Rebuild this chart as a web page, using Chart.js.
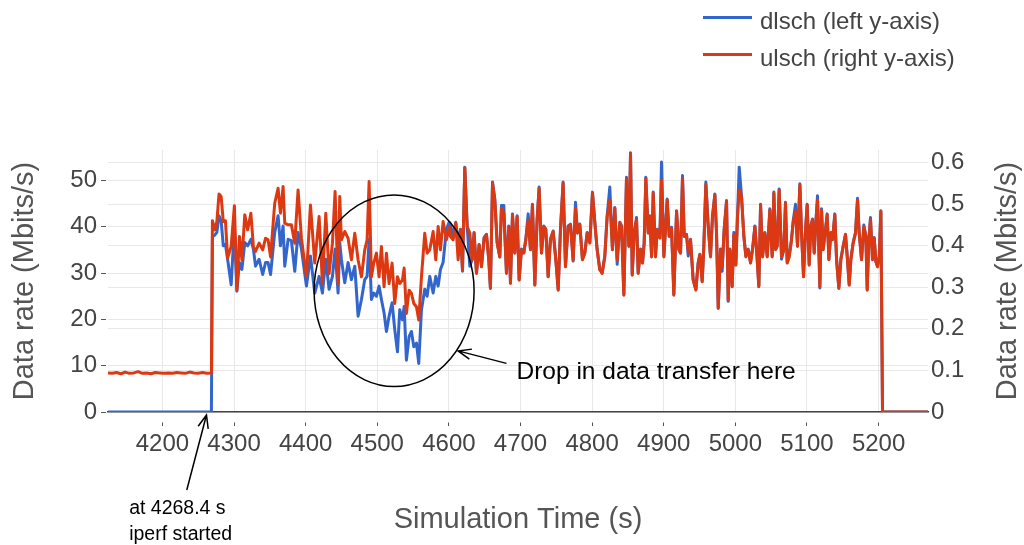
<!DOCTYPE html>
<html>
<head>
<meta charset="utf-8">
<script src="https://cdn.jsdelivr.net/npm/chart.js@4.4.1/dist/chart.umd.min.js"></script>
<style>
  html, body { margin: 0; padding: 0; background: #fff; }
</style>
</head>
<body>
<canvas id="rateChart" width="1024" height="545"></canvas>
<script>
// simulation time (s)
const time = [
  4124, 4130, 4136, 4142, 4148, 4154, 4160, 4166, 4172, 4178, 4184, 4190, 4196, 4202, 4208, 4214, 4220, 4226, 4232, 4238, 4244, 4250, 4256, 4262, 4268.4,
  4269.8, 4273, 4276, 4279, 4282, 4285, 4288, 4291, 4296, 4300.5, 4304, 4307.5, 4311, 4315, 4319, 4323.5, 4327, 4330, 4335, 4340, 4344, 4347.5, 4351,
  4356.8, 4361.5, 4364.8, 4368.5, 4370.8, 4375.5, 4380.1, 4384.8, 4389.4, 4394.1, 4401.1, 4406.7, 4412.7, 4418.8, 4423.4, 4428.1, 4432.7, 4437.4,
  4441.1, 4445.3, 4447.6, 4449.9, 4454.6, 4459.2, 4463.9, 4468.6, 4473.2, 4477.9, 4482.5, 4485.8, 4488.6, 4491.8, 4495.1, 4498.8, 4502.5, 4505.8,
  4509.5, 4512.8, 4516.5, 4520.7, 4524.4, 4528.2, 4531.4, 4535.1, 4537.5, 4540.7, 4544.4, 4547.7, 4551, 4554.7, 4557.9, 4561.7, 4566.3, 4569.6,
  4573.3, 4578, 4581.7, 4585, 4588.2, 4591.9, 4596.6, 4600.3, 4602.2, 4605.9, 4609.6, 4612.9, 4616.2, 4619, 4622.2, 4625.5, 4629.2, 4632.5,
  4635.2, 4638.5, 4642.2, 4645.5, 4649.2, 4652.5, 4655.7, 4658, 4660.9, 4664.1, 4667.4, 4671.1, 4673.4, 4676.7, 4680.4, 4683.7, 4686, 4688.8,
  4692, 4695.3, 4698.1, 4701.3, 4704.6, 4707.4, 4710.7, 4713.9, 4716.7, 4720, 4723.2, 4726, 4729.3, 4732.5, 4735.3, 4738.6, 4741.8, 4745.6,
  4749.3, 4752.6, 4755.8, 4759.5, 4762.8, 4766.5, 4769.8, 4773.5, 4776.8, 4779.6, 4782.8, 4786.5, 4789.8, 4793.1, 4796.8, 4800.5, 4803.8, 4807,
  4810.7, 4814, 4817.7, 4821, 4824.7, 4828.4, 4831.7, 4835, 4838.7, 4841.1, 4844.3, 4848, 4851.3, 4853.6, 4856, 4858.7, 4862, 4864.3,
  4867.6, 4870.4, 4872.7, 4875, 4878.3, 4880.6, 4883, 4885.3, 4888.5, 4890.9, 4894.6, 4896.9, 4900.2, 4904.8, 4907.6, 4910.9, 4914.1, 4917.9,
  4921.1, 4923.5, 4926.2, 4928.6, 4931.8, 4934.2, 4937.4, 4941.1, 4944.9, 4948.1, 4950.5, 4953.7, 4956, 4958.8, 4962.1, 4965.3, 4968.1, 4971.4,
  4973.7, 4976.1, 4979.3, 4981.6, 4984.4, 4987.7, 4990, 4992.3, 4995.6, 4997.9, 5000.7, 5003, 5005.4, 5008.6, 5011.9, 5014.7, 5018, 5021.2,
  5024, 5027.3, 5029.6, 5032.8, 5035.2, 5038, 5041.2, 5044.5, 5048.2, 5051.4, 5053.8, 5056.1, 5058.4, 5061.2, 5064.5, 5067.7, 5070, 5072.4,
  5075.2, 5078.4, 5080.8, 5084, 5086.8, 5090.1, 5092.4, 5095.2, 5098, 5100.3, 5103.1, 5105.4, 5107.8, 5110.1, 5112.4, 5114.7, 5118, 5120.3,
  5122.6, 5125.9, 5128.2, 5130.6, 5133.4, 5135.7, 5138.9, 5141.3, 5144.5, 5147.3, 5150.6, 5153.8, 5156.2, 5159, 5161.3, 5164.5, 5167.8, 5170.6,
  5172.9, 5176.2, 5179.4, 5182.2, 5184.1, 5186.4, 5188.7, 5191.5, 5193.9, 5196.2, 5198.5, 5200.9, 5203.2, 5205.5, 5269
];

// dlsch, Mbits/s (left axis)
const dlsch = [
  0, 0, 0, 0, 0, 0, 0, 0, 0, 0, 0, 0, 0, 0, 0, 0, 0, 0, 0, 0, 0, 0, 0, 0, 0,
  37.9, 38.2, 38.8, 42.4, 41.3, 35.9, 36.2, 33.0, 27.5, 40.2, 26.1, 32.3, 30.8, 36.6, 35.9, 37.3, 35.2, 31.5, 33.0, 29.7, 32.3, 32.3, 29.7,
  38.8, 42.4, 35.9, 40.2, 31.5, 37.3, 37.0, 30.4, 38.8, 35.2, 27.2, 33.7, 25.7, 29.3, 25.7, 33.0, 26.5, 29.3,
  35.2, 25.7, 36.6, 33.0, 27.9, 32.3, 28.6, 31.5, 20.7, 24.3, 28.6, 29.3, 37.3, 24.3, 25.7, 25.0, 27.2, 24.3,
  21.4, 17.4, 20.7, 23.6, 17.8, 13.0, 22.1, 19.9, 22.8, 11.2, 16.3, 17.4, 14.1, 14.9, 10.5, 22.1, 26.5, 25.0,
  29.3, 25.7, 29.3, 27.2, 30.8, 32.3, 39.5, 41.0, 40.6, 37.7, 41.0, 36.6, 39.5, 30.4, 52.9, 40.2, 31.5, 33.0,
  38.8, 30.1, 36.2, 31.5, 37.7, 38.4, 33.0, 26.8, 49.7, 46.0, 36.6, 33.5, 44.6, 44.6, 30.1, 40.2, 27.9, 42.8,
  34.4, 42.4, 28.6, 35.2, 34.4, 37.3, 42.8, 35.2, 44.9, 27.5, 41.7, 48.6, 34.4, 40.2, 39.5, 29.3, 37.3, 39.1,
  33.0, 26.5, 39.5, 49.7, 31.5, 40.2, 40.6, 32.6, 45.3, 38.8, 40.6, 33.0, 34.4, 38.8, 36.6, 47.5, 41.0, 35.2,
  30.8, 30.1, 33.7, 42.4, 48.6, 35.2, 44.2, 31.9, 41.0, 40.2, 25.4, 50.7, 35.9, 56.0, 29.7, 38.8, 42.0, 30.1,
  35.2, 32.3, 36.6, 50.7, 38.8, 42.4, 33.7, 47.5, 33.7, 39.5, 37.7, 54.0, 33.7, 46.0, 38.0, 39.9, 25.4, 43.5,
  35.2, 34.4, 51.1, 38.0, 38.4, 33.7, 37.3, 28.6, 26.5, 32.3, 34.1, 28.3, 35.9, 49.7, 40.2, 33.7, 42.4, 47.1,
  38.8, 22.5, 35.2, 30.4, 39.5, 45.7, 23.9, 35.2, 27.2, 38.8, 31.9, 42.4, 52.9, 46.7, 38.0, 33.7, 35.2, 32.3,
  35.2, 40.2, 35.2, 27.2, 44.9, 33.7, 38.8, 33.7, 43.9, 33.7, 47.5, 35.2, 35.9, 48.2, 33.0, 35.2, 45.3, 32.3,
  33.7, 37.3, 41.3, 44.9, 35.9, 49.3, 38.8, 29.3, 39.5, 44.9, 31.9, 40.2, 41.7, 34.4, 41.0, 46.7, 26.8, 43.9,
  35.2, 39.5, 42.8, 33.0, 38.8, 37.3, 42.8, 33.0, 26.8, 33.0, 35.9, 38.4, 33.7, 27.5, 33.0, 36.6, 38.8, 46.2,
  38.8, 33.0, 40.4, 38.0, 26.5, 37.3, 42.0, 33.0, 37.7, 32.6, 31.5, 33.7, 43.5, 0, 0
];

// ulsch, Mbits/s (right axis)
const ulsch = [
  0.094, 0.093, 0.095, 0.092, 0.096, 0.093, 0.094, 0.097, 0.093, 0.094, 0.092, 0.095, 0.094, 0.093, 0.094, 0.093, 0.095, 0.094, 0.093, 0.096, 0.094, 0.093, 0.095, 0.093, 0.094,
  0.460, 0.438, 0.458, 0.524, 0.518, 0.458, 0.460, 0.370, 0.398, 0.496, 0.293, 0.422, 0.366, 0.474, 0.438, 0.478, 0.398, 0.386, 0.406, 0.390, 0.418, 0.414, 0.373,
  0.502, 0.538, 0.478, 0.542, 0.454, 0.450, 0.450, 0.406, 0.534, 0.418, 0.325, 0.498, 0.358, 0.470, 0.309, 0.478, 0.333, 0.406,
  0.530, 0.309, 0.518, 0.414, 0.434, 0.418, 0.366, 0.430, 0.366, 0.325, 0.390, 0.414, 0.554, 0.325, 0.358, 0.382, 0.325, 0.398,
  0.301, 0.382, 0.309, 0.358, 0.261, 0.325, 0.309, 0.317, 0.346, 0.237, 0.293, 0.285, 0.261, 0.253, 0.221, 0.325, 0.430, 0.382,
  0.390, 0.434, 0.366, 0.446, 0.390, 0.458, 0.414, 0.446, 0.422, 0.414, 0.454, 0.366, 0.438, 0.342, 0.587, 0.446, 0.430, 0.366,
  0.430, 0.333, 0.402, 0.349, 0.418, 0.426, 0.366, 0.297, 0.550, 0.510, 0.406, 0.373, 0.490, 0.478, 0.333, 0.446, 0.309, 0.474,
  0.382, 0.470, 0.317, 0.390, 0.382, 0.414, 0.462, 0.390, 0.498, 0.305, 0.462, 0.538, 0.382, 0.446, 0.438, 0.325, 0.414, 0.434,
  0.366, 0.293, 0.438, 0.550, 0.349, 0.446, 0.450, 0.366, 0.490, 0.430, 0.450, 0.366, 0.382, 0.430, 0.406, 0.526, 0.454, 0.390,
  0.342, 0.333, 0.373, 0.470, 0.510, 0.390, 0.490, 0.366, 0.454, 0.446, 0.281, 0.562, 0.398, 0.621, 0.329, 0.430, 0.462, 0.333,
  0.390, 0.358, 0.406, 0.562, 0.430, 0.470, 0.373, 0.526, 0.373, 0.438, 0.418, 0.558, 0.373, 0.510, 0.422, 0.442, 0.281, 0.482,
  0.390, 0.382, 0.562, 0.422, 0.426, 0.386, 0.414, 0.317, 0.293, 0.358, 0.378, 0.313, 0.398, 0.546, 0.446, 0.373, 0.470, 0.522,
  0.430, 0.249, 0.390, 0.349, 0.438, 0.506, 0.269, 0.390, 0.301, 0.426, 0.353, 0.470, 0.534, 0.518, 0.422, 0.373, 0.390, 0.358,
  0.390, 0.446, 0.390, 0.301, 0.498, 0.373, 0.430, 0.373, 0.486, 0.373, 0.526, 0.390, 0.398, 0.534, 0.373, 0.390, 0.502, 0.358,
  0.373, 0.414, 0.458, 0.482, 0.398, 0.546, 0.430, 0.325, 0.438, 0.498, 0.353, 0.446, 0.462, 0.382, 0.454, 0.510, 0.301, 0.486,
  0.390, 0.438, 0.474, 0.366, 0.430, 0.414, 0.474, 0.366, 0.297, 0.366, 0.398, 0.426, 0.373, 0.305, 0.366, 0.406, 0.430, 0.510,
  0.430, 0.366, 0.446, 0.422, 0.293, 0.414, 0.462, 0.366, 0.418, 0.361, 0.349, 0.373, 0.482, 0, 0
];

const fontFamily = '"Liberation Sans", Arial, sans-serif';
Chart.defaults.font.family = fontFamily;

const toPoints = vals => time.map((t, i) => ({ x: t, y: vals[i] }));

function arrow(ctx, x1, y1, x2, y2) {
  const a = Math.atan2(y2 - y1, x2 - x1);
  const len = 14, spread = 0.38;
  ctx.beginPath();
  ctx.moveTo(x1, y1);
  ctx.lineTo(x2, y2);
  ctx.moveTo(x2 - len * Math.cos(a - spread), y2 - len * Math.sin(a - spread));
  ctx.lineTo(x2, y2);
  ctx.lineTo(x2 - len * Math.cos(a + spread), y2 - len * Math.sin(a + spread));
  ctx.stroke();
}

// legend, right axis title and the hand-drawn notes
const overlay = {
  id: 'overlay',
  afterDraw(chart) {
    const { ctx, chartArea, scales: { x, y } } = chart;
    ctx.save();

    ctx.font = '24px ' + fontFamily;
    ctx.textBaseline = 'alphabetic';
    chart.data.datasets.forEach((ds, i) => {
      const ly = 17.5 + i * 37;
      ctx.strokeStyle = ds.borderColor;
      ctx.lineWidth = 3;
      ctx.beginPath();
      ctx.moveTo(703, ly);
      ctx.lineTo(752, ly);
      ctx.stroke();
      ctx.fillStyle = '#444';
      ctx.fillText(ds.label, 760, ly + 11);
    });

    ctx.save();
    ctx.translate(1008, (chartArea.top + chartArea.bottom) / 2);
    ctx.rotate(-Math.PI / 2);
    ctx.font = '29px ' + fontFamily;
    ctx.fillStyle = '#555';
    ctx.textAlign = 'center';
    ctx.textBaseline = 'middle';
    ctx.fillText('Data rate (Mbits/s)', 0, 0);
    ctx.restore();

    ctx.strokeStyle = '#000';
    ctx.fillStyle = '#000';
    ctx.lineWidth = 1.5;

    const cx = x.getPixelForValue(4523.5), cy = y.getPixelForValue(26.2);
    ctx.beginPath();
    ctx.ellipse(cx, cy, x.getPixelForValue(4635.2) - cx, cy - y.getPixelForValue(46.9), 0, 0, Math.PI * 2);
    ctx.stroke();

    arrow(ctx, x.getPixelForValue(4680.4), y.getPixelForValue(10.5), x.getPixelForValue(4612.8), y.getPixelForValue(13.2));
    ctx.font = '24.5px ' + fontFamily;
    ctx.fillText('Drop in data transfer here', x.getPixelForValue(4694.4), y.getPixelForValue(7.2));

    const b = chartArea.bottom;
    arrow(ctx, x.getPixelForValue(4234), b + 78, x.getPixelForValue(4261.5), b + 3);
    ctx.font = '19.5px ' + fontFamily;
    ctx.fillText('at 4268.4 s', x.getPixelForValue(4153.5), b + 101.6);
    ctx.fillText('iperf started', x.getPixelForValue(4153.5), b + 128.3);

    ctx.restore();
  }
};

new Chart(document.getElementById('rateChart'), {
  type: 'line',
  data: {
    datasets: [
      {
        label: 'dlsch (left y-axis)',
        data: toPoints(dlsch),
        yAxisID: 'y',
        borderColor: '#3366cc',
        borderWidth: 3,
        borderJoinStyle: 'round',
        pointRadius: 0,
        tension: 0,
        order: 1
      },
      {
        label: 'ulsch (right y-axis)',
        data: toPoints(ulsch),
        yAxisID: 'y1',
        borderColor: '#dc3912',
        borderWidth: 3,
        borderJoinStyle: 'round',
        pointRadius: 0,
        tension: 0,
        order: 0
      }
    ]
  },
  options: {
    responsive: false,
    animation: false,
    events: [],
    layout: { padding: { top: 150 } },
    plugins: {
      legend: { display: false },
      tooltip: { enabled: false }
    },
    scales: {
      x: {
        type: 'linear',
        min: 4124,
        max: 5269,
        ticks: { stepSize: 100, includeBounds: false, autoSkip: false, maxRotation: 0, color: '#444', font: { size: 24 }, padding: 4, callback: v => String(v) },
        grid: { color: '#e8e8e8', tickLength: 14, tickColor: '#555', tickBorderDash: [4, 10], tickBorderDashOffset: 4 },
        border: { display: true, color: '#444', width: 1.5 },
        title: { display: true, text: 'Simulation Time (s)', color: '#555', font: { size: 29 }, padding: { top: 0, bottom: 8 } },
        afterFit: s => { s.height = 133; }
      },
      y: {
        position: 'left',
        min: 0,
        max: 56.6,
        ticks: { stepSize: 10, includeBounds: false, color: '#444', font: { size: 24 }, padding: 4 },
        grid: { color: '#e8e8e8', tickLength: 7, tickColor: '#555', tickBorderDash: [5, 10] },
        border: { display: false },
        title: { display: true, text: 'Data rate (Mbits/s)', color: '#555', font: { size: 29 }, padding: { top: 8, bottom: 0 } },
        afterFit: s => { s.width = 108; }
      },
      y1: {
        position: 'right',
        min: 0,
        max: 0.63,
        ticks: { stepSize: 0.1, includeBounds: false, color: '#444', font: { size: 24 }, padding: 3 },
        grid: { color: '#e8e8e8', drawTicks: false },
        border: { display: false },
        afterFit: s => { s.width = 96; }
      }
    }
  },
  plugins: [overlay]
});
</script>
</body>
</html>
